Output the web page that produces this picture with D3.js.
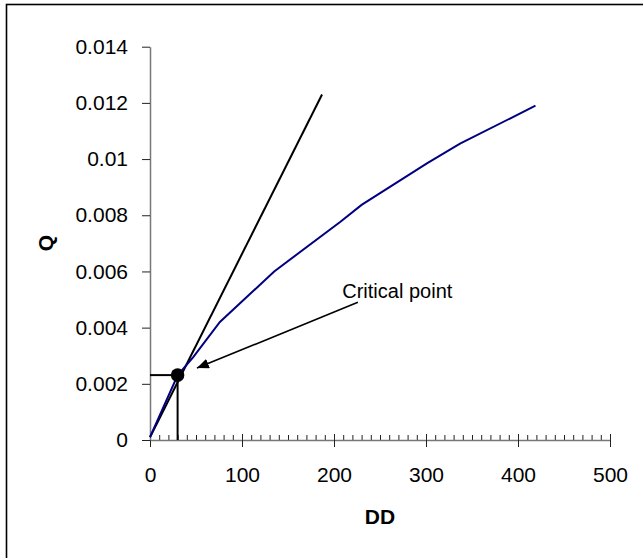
<!DOCTYPE html>
<html>
<head>
<meta charset="utf-8">
<script src="https://cdn.jsdelivr.net/npm/d3@7/dist/d3.min.js"></script>
<style>
body { margin: 0; background: #fff; }
text { font-family: "Liberation Sans", Arial, sans-serif; }
</style>
</head>
<body>
<svg id="chart" width="643" height="558"></svg>
<script>
// measured curve
var dd = [0, 30, 47, 76, 135, 207, 230, 301, 337, 419];
var q = [0.0001, 0.0023, 0.00295, 0.0042, 0.0060, 0.00777, 0.00837, 0.00985, 0.01055, 0.0119];

// tangent through the origin
var tangentDD = [0, 187];
var tangentQ = [0.0001, 0.0123];

// critical point
var criticalDD = [30];
var criticalQ = [0.00231];

// annotation arrow (tail, tip) in data units
var noteText = "Critical point";
var noteDD = [226, 51];
var noteQ = [0.0049, 0.00256];
var noteLabelDD = 209;
var noteLabelQ = 0.00505;

var xTicks = [0, 100, 200, 300, 400, 500];
var xTickLabels = ["0", "100", "200", "300", "400", "500"];
var yTicks = [0, 0.002, 0.004, 0.006, 0.008, 0.01, 0.012, 0.014];
var yTickLabels = ["0", "0.002", "0.004", "0.006", "0.008", "0.01", "0.012", "0.014"];

var svg = d3.select("#chart");

var x = d3.scaleLinear().domain([0, 500]).range([150, 610]);
var y = d3.scaleLinear().domain([0, 0.014]).range([440, 46.7]);

// outer frame (right and bottom edges fall off the picture)
svg.append("rect")
	.attr("x", 6.5)
	.attr("y", 4.5)
	.attr("width", 700)
	.attr("height", 700)
	.attr("fill", "none")
	.attr("stroke", "#000")
	.attr("stroke-width", 1.6);

svg.append("defs").append("marker")
	.attr("id", "head")
	.attr("markerUnits", "userSpaceOnUse")
	.attr("viewBox", "0 0 12 10")
	.attr("refX", 12)
	.attr("refY", 5)
	.attr("markerWidth", 12)
	.attr("markerHeight", 10)
	.attr("orient", "auto")
	.append("path")
	.attr("d", "M0,0 L12,5 L0,10 Z")
	.attr("fill", "#000");

function styleAxis(g){
	g.attr("font-family", null).attr("font-size", null);
	g.select(".domain").attr("stroke", "#777").attr("stroke-width", 1.5);
	g.selectAll(".tick line").attr("stroke", "#222").attr("stroke-width", 1);
	g.selectAll(".tick text")
		.attr("fill", "#000")
		.style("font-size", "21px");
}

// x axis: minor ticks every 10 pointing up, major ticks crossing
var xMinor = svg.append("g")
	.attr("transform", "translate(0,440)")
	.call(d3.axisTop(x).tickValues(d3.range(0, 501, 10)).tickSizeInner(5).tickSizeOuter(0).tickFormat(""));
xMinor.select(".domain").remove();
xMinor.selectAll(".tick line").attr("stroke", "#222");

var xMajorUp = svg.append("g")
	.attr("transform", "translate(0,440)")
	.call(d3.axisTop(x).tickValues(xTicks).tickSizeInner(6).tickSizeOuter(0).tickFormat(""));
xMajorUp.select(".domain").remove();
xMajorUp.selectAll(".tick line").attr("stroke", "#222");

var xAxis = svg.append("g")
	.attr("transform", "translate(0,440)")
	.call(d3.axisBottom(x)
		.tickValues(xTicks)
		.tickSizeInner(7)
		.tickSizeOuter(0)
		.tickPadding(20)
		.tickFormat(function(d, i){ return xTickLabels[i]; }));
styleAxis(xAxis);

var yAxis = svg.append("g")
	.attr("transform", "translate(150,0)")
	.call(d3.axisLeft(y)
		.tickValues(yTicks)
		.tickSizeInner(8)
		.tickSizeOuter(0)
		.tickPadding(14)
		.tickFormat(function(d, i){ return yTickLabels[i]; }));
styleAxis(yAxis);

// axis titles
svg.append("text")
	.attr("x", 380)
	.attr("y", 524)
	.attr("text-anchor", "middle")
	.attr("font-weight", "bold")
	.style("font-size", "21px")
	.text("DD");

svg.append("text")
	.attr("transform", "translate(46,243) rotate(-90)")
	.attr("text-anchor", "middle")
	.attr("dy", "0.35em")
	.attr("font-weight", "bold")
	.style("font-size", "21px")
	.text("Q");

// tangent line
var line = d3.line()
	.x(function(d){ return x(d[0]); })
	.y(function(d){ return y(d[1]); });

svg.append("path")
	.datum(d3.zip(tangentDD, tangentQ))
	.attr("d", line)
	.attr("fill", "none")
	.attr("stroke", "#000")
	.attr("stroke-width", 2);

// curve
svg.append("path")
	.datum(d3.zip(dd, q))
	.attr("d", line)
	.attr("fill", "none")
	.attr("stroke", "#000080")
	.attr("stroke-width", 2);

// drop lines from the critical point to the axes
var crit = d3.zip(criticalDD, criticalQ);

svg.selectAll(".hdrop")
	.data(crit)
	.enter()
	.append("line")
	.attr("class", "hdrop")
	.attr("x1", x(0))
	.attr("x2", function(d){ return x(d[0]); })
	.attr("y1", function(d){ return y(d[1]); })
	.attr("y2", function(d){ return y(d[1]); })
	.attr("stroke", "#000")
	.attr("stroke-width", 2);

svg.selectAll(".vdrop")
	.data(crit)
	.enter()
	.append("line")
	.attr("class", "vdrop")
	.attr("x1", function(d){ return x(d[0]); })
	.attr("x2", function(d){ return x(d[0]); })
	.attr("y1", function(d){ return y(d[1]); })
	.attr("y2", y(0))
	.attr("stroke", "#000")
	.attr("stroke-width", 2);

svg.selectAll(".crit")
	.data(crit)
	.enter()
	.append("circle")
	.attr("class", "crit")
	.attr("cx", function(d){ return x(d[0]); })
	.attr("cy", function(d){ return y(d[1]); })
	.attr("r", 6.8)
	.attr("fill", "#000");

// annotation
svg.append("line")
	.attr("x1", x(noteDD[0]))
	.attr("y1", y(noteQ[0]))
	.attr("x2", x(noteDD[1]))
	.attr("y2", y(noteQ[1]))
	.attr("stroke", "#000")
	.attr("stroke-width", 1.6)
	.attr("marker-end", "url(#head)");

svg.append("text")
	.attr("x", x(noteLabelDD))
	.attr("y", y(noteLabelQ))
	.style("font-size", "20px")
	.text(noteText);
</script>
</body>
</html>
